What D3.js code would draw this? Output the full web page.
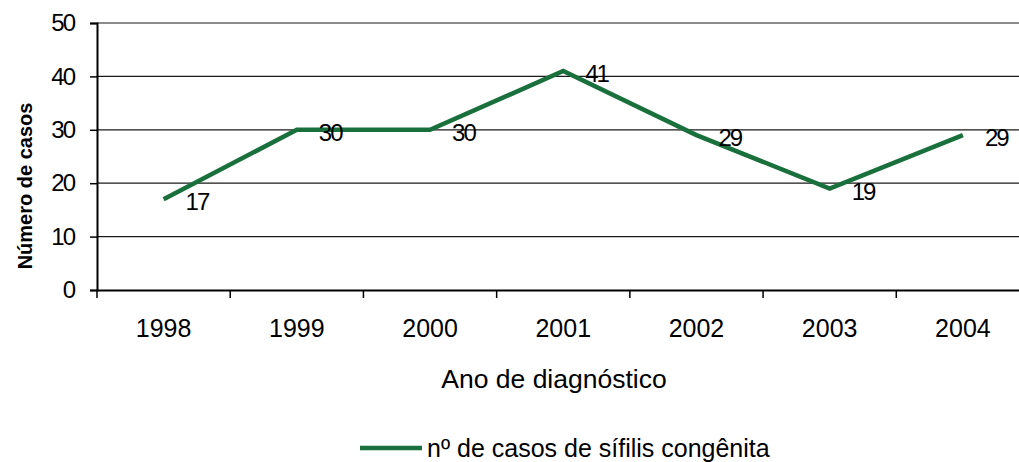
<!DOCTYPE html>
<html><head><meta charset="utf-8">
<script src="https://cdn.jsdelivr.net/npm/d3@7"></script>
<style>
html,body{margin:0;padding:0;background:#fff;overflow:hidden;}
text{font-family:"Liberation Sans",Arial,sans-serif;fill:#000;}
</style></head>
<body><svg id="c" width="1019" height="462"></svg>
<script>
const years = ["1998","1999","2000","2001","2002","2003","2004"];
const cases = [17, 30, 30, 41, 29, 19, 29];
const yTicks = [0, 10, 20, 30, 40, 50];
const seriesName = "nº de casos de sífilis congênita";
const xTitle = "Ano de diagnóstico";
const yTitle = "Número de casos";

(function () {
const svg = d3.select("#c");
const pLeft = 97, pRight = 1029.5, pTop = 23, pBottom = 290;
const green = "#19703d";

const x = d3.scaleBand().domain(years).range([pLeft, pRight]);
const y = d3.scaleLinear().domain([0, 50]).range([pBottom, pTop]);

// gridlines
svg.append("g").selectAll("line").data(yTicks.filter(d => d > 0)).join("line")
  .attr("x1", pLeft).attr("x2", 1019)
  .attr("y1", d => y(d)).attr("y2", d => y(d))
  .attr("stroke", "#1a1a1a").attr("stroke-width", 1.2);

// y axis
const ya = svg.append("g").attr("transform", `translate(${pLeft},0)`)
  .call(d3.axisLeft(y).tickValues(yTicks).tickSize(7).tickPadding(16).tickFormat(d3.format("d")));
ya.select(".domain").attr("stroke", "#000").attr("stroke-width", 2);
ya.selectAll(".tick line").attr("stroke", "#000").attr("stroke-width", 1.5);
ya.selectAll(".tick text").style("font-size", "24px").style("letter-spacing", "-2px").attr("fill", "#000");

// x axis
const xa = svg.append("g").attr("transform", `translate(0,${pBottom})`)
  .call(d3.axisBottom(x).tickSize(0).tickPadding(29));
xa.select(".domain").attr("stroke", "#000").attr("stroke-width", 2);
xa.selectAll(".tick text").style("font-size", "25px").attr("fill", "#000");
// category separator ticks
svg.append("g").selectAll("line").data(years).join("line")
  .attr("x1", d => x(d)).attr("x2", d => x(d))
  .attr("y1", pBottom).attr("y2", pBottom + 8)
  .attr("stroke", "#000").attr("stroke-width", 1.5);

// line
const line = d3.line().x((d, i) => x(years[i]) + x.bandwidth() / 2).y(d => y(d));
svg.append("path").datum(cases).attr("d", line)
  .attr("fill", "none").attr("stroke", green).attr("stroke-width", 4.5)
  .attr("stroke-linejoin", "miter");

// data labels
svg.append("g").selectAll("text").data(cases).join("text")
  .attr("x", (d, i) => x(years[i]) + x.bandwidth() / 2 + 22)
  .attr("y", d => y(d) + 11)
  .style("font-size", "24px").style("letter-spacing", "-2px")
  .text(d => d);

// titles
svg.append("text").attr("x", 554).attr("y", 388).attr("text-anchor", "middle")
  .style("font-size", "26.5px").text(xTitle);
svg.append("text").attr("transform", "translate(32,186) rotate(-90)")
  .attr("text-anchor", "middle").style("font-size", "20px").style("font-weight", "bold")
  .text(yTitle);

// legend
svg.append("line").attr("x1", 360).attr("x2", 422).attr("y1", 448).attr("y2", 448)
  .attr("stroke", green).attr("stroke-width", 4.5);
svg.append("text").attr("x", 427).attr("y", 457).style("font-size", "25px").text(seriesName);
})();
</script></body></html>
